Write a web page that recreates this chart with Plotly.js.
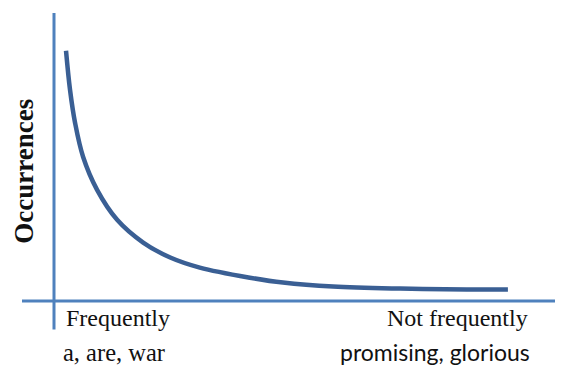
<!DOCTYPE html>
<html><head><meta charset="utf-8">
<script src="https://cdn.plot.ly/plotly-3.0.1.min.js"></script>
<style>html,body{margin:0;padding:0;background:#fff}#chart{width:563px;height:365px}</style>
</head><body><div id="chart"></div>
<script>
// Data (rank position 0-100, occurrences 0-100)
const rank = [2.4, 3.2, 4.2, 5.8, 8.6, 12.6, 17.8, 23.2, 29.1, 39.1, 45.7, 55.7, 69.1, 82.4, 90.6];
const occurrences = [86.9, 73.3, 61.9, 50.1, 38.6, 28.2, 20.3, 15.1, 11.6, 8.1, 6.4, 5.0, 4.3, 4.0, 4.0];
const yTitle = 'Occurrences';
const leftLabels = ['Frequently', 'a, are, war'];
const rightLabels = ['Not frequently', 'promising, glorious'];

const W = 563, H = 365, L = 54, R = 8, T = 13, B = 63.5;
const pw = W - L - R, ph = H - T - B;
const px = x => (x - L) / pw;
const py = y => (H - B - y) / ph;

const axisColor = '#4f81bd';
const curveColor = '#3a5f94';
const serif = 'Liberation Serif, Times New Roman, serif';

const trace = {
  x: rank, y: occurrences, type: 'scatter', mode: 'lines',
  line: {color: curveColor, width: 4.5, shape: 'spline', smoothing: 1},
  hoverinfo: 'skip'
};

const layout = {
  width: W, height: H,
  margin: {l: L, r: R, t: T, b: B, pad: 0},
  paper_bgcolor: '#fff', plot_bgcolor: '#fff',
  showlegend: false,
  xaxis: {range: [0, 100], visible: false, fixedrange: true},
  yaxis: {range: [0, 100], visible: false, fixedrange: true},
  shapes: [
    {type: 'line', xref: 'paper', yref: 'paper', x0: px(54), x1: px(54), y0: py(13), y1: py(330),
     line: {color: axisColor, width: 3}},
    {type: 'line', xref: 'paper', yref: 'paper', x0: px(22), x1: px(555), y0: py(301.5), y1: py(301.5),
     line: {color: axisColor, width: 3}}
  ],
  annotations: [
    {text: leftLabels[0], xref: 'paper', yref: 'paper', x: px(117.5), y: py(319), xanchor: 'center', yanchor: 'middle',
     showarrow: false, font: {family: serif, size: 24, color: '#111'}},
    {text: leftLabels[1], xref: 'paper', yref: 'paper', x: px(114), y: py(353), xanchor: 'center', yanchor: 'middle',
     showarrow: false, font: {family: serif, size: 24.5, color: '#111'}},
    {text: rightLabels[0], xref: 'paper', yref: 'paper', x: px(457.5), y: py(319), xanchor: 'center', yanchor: 'middle',
     showarrow: false, font: {family: serif, size: 24, color: '#111'}},
    {text: rightLabels[1], xref: 'paper', yref: 'paper', x: px(435), y: py(353), xanchor: 'center', yanchor: 'middle',
     showarrow: false, font: {family: 'Lato, sans-serif', size: 23, color: '#111'}},
    {text: '<b>' + yTitle + '</b>', xref: 'paper', yref: 'paper', x: px(24), y: py(172), xanchor: 'center', yanchor: 'middle',
     textangle: -90, showarrow: false, font: {family: serif, size: 27, color: '#111'}}
  ]
};

Plotly.newPlot('chart', [trace], layout, {displayModeBar: false, staticPlot: true});
</script>
</body></html>
